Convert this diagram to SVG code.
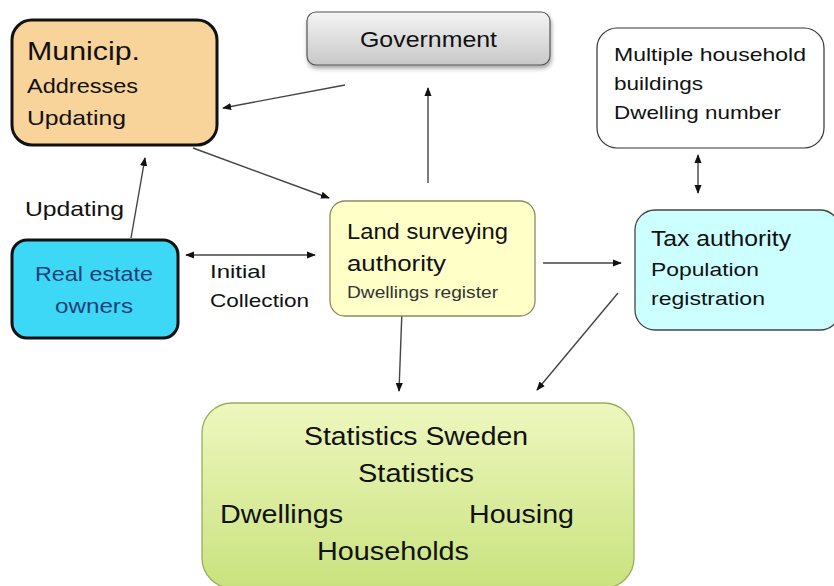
<svg xmlns="http://www.w3.org/2000/svg" width="834" height="586" viewBox="0 0 834 586">
<defs>
<linearGradient id="gGov" x1="0" y1="0" x2="0" y2="1"><stop offset="0" stop-color="#f4f4f4"/><stop offset="1" stop-color="#c8c8c8"/></linearGradient>
<linearGradient id="gStat" x1="0" y1="0" x2="0" y2="1"><stop offset="0" stop-color="#eef7bf"/><stop offset="1" stop-color="#c9e27e"/></linearGradient>
<filter id="sh" x="-10%" y="-10%" width="130%" height="140%"><feDropShadow dx="1" dy="3" stdDeviation="2" flood-color="#000" flood-opacity="0.35"/></filter>
<marker id="ah" viewBox="0 0 10 10" refX="9" refY="5" markerWidth="9" markerHeight="9" markerUnits="userSpaceOnUse" orient="auto-start-reverse"><path d="M0,1 L10,5 L0,9 Z" fill="#111"/></marker>
</defs>
<style>
text{font-family:"Liberation Sans",Arial,sans-serif;fill:#111}
.c{stroke:#444;stroke-width:1.4;fill:none;marker-end:url(#ah)}
.b{stroke:#444;stroke-width:1.4;fill:none;marker-end:url(#ah);marker-start:url(#ah)}
</style>
<rect width="834" height="586" fill="#fff"/>
<g id="connectors">
<line class="c" x1="345" y1="85" x2="223" y2="108"/>
<line class="c" x1="193" y1="148" x2="329" y2="198"/>
<line class="c" x1="428" y1="183" x2="428" y2="88"/>
<line class="c" x1="131" y1="238" x2="145" y2="158"/>
<line class="b" x1="186" y1="255" x2="315" y2="255"/>
<line class="b" x1="698" y1="155" x2="698" y2="193"/>
<line class="c" x1="543" y1="263" x2="621" y2="263"/>
<line class="c" x1="402" y1="310" x2="399" y2="391"/>
<line class="c" x1="618" y1="293" x2="537" y2="390"/>
</g>
<g id="municip">
<rect x="12" y="20" width="205" height="125" rx="20" fill="#f9d49a" stroke="#111" stroke-width="3"/>
<text x="27" y="60" font-size="25" textLength="113" lengthAdjust="spacingAndGlyphs">Municip.</text>
<text x="27" y="93" font-size="21" textLength="111" lengthAdjust="spacingAndGlyphs">Addresses</text>
<text x="27" y="125" font-size="21" textLength="99" lengthAdjust="spacingAndGlyphs">Updating</text>
</g>
<g id="government">
<rect x="307" y="12" width="243" height="53" rx="9" fill="url(#gGov)" stroke="#555" stroke-width="1.2" filter="url(#sh)"/>
<text x="360" y="47" font-size="22" textLength="137" lengthAdjust="spacingAndGlyphs">Government</text>
</g>
<g id="multiple">
<rect x="597" y="28" width="227" height="120" rx="20" fill="#fff" stroke="#333" stroke-width="1.2"/>
<text x="614" y="61" font-size="19" textLength="192" lengthAdjust="spacingAndGlyphs">Multiple household</text>
<text x="614" y="90" font-size="19" textLength="89" lengthAdjust="spacingAndGlyphs">buildings</text>
<text x="614" y="119" font-size="19" textLength="167" lengthAdjust="spacingAndGlyphs">Dwelling number</text>
</g>
<g id="updating-label">
<text x="25" y="216" font-size="21" textLength="99" lengthAdjust="spacingAndGlyphs">Updating</text>
</g>
<g id="realestate">
<rect x="12" y="240" width="166" height="98" rx="15" fill="#3dd8f5" stroke="#111" stroke-width="3"/>
<text x="35" y="281" font-size="21" fill="#1f3f78" style="fill:#1f3f78" textLength="118" lengthAdjust="spacingAndGlyphs">Real estate</text>
<text x="55" y="313" font-size="21" style="fill:#1f3f78" textLength="78" lengthAdjust="spacingAndGlyphs">owners</text>
</g>
<g id="initial-label">
<text x="210" y="278" font-size="19" textLength="56" lengthAdjust="spacingAndGlyphs">Initial</text>
<text x="210" y="307" font-size="19" textLength="99" lengthAdjust="spacingAndGlyphs">Collection</text>
</g>
<g id="land">
<rect x="330" y="201" width="205" height="115" rx="15" fill="#ffffc8" stroke="#8a8a60" stroke-width="1.3"/>
<text x="347" y="239" font-size="22" textLength="161" lengthAdjust="spacingAndGlyphs">Land surveying</text>
<text x="347" y="271" font-size="22" textLength="99" lengthAdjust="spacingAndGlyphs">authority</text>
<text x="347" y="298" font-size="16" style="fill:#333" textLength="151" lengthAdjust="spacingAndGlyphs">Dwellings register</text>
</g>
<g id="tax">
<rect x="635" y="210" width="205" height="120" rx="20" fill="#ccffff" stroke="#444" stroke-width="1.3"/>
<text x="651" y="246" font-size="22" textLength="140" lengthAdjust="spacingAndGlyphs">Tax authority</text>
<text x="651" y="276" font-size="19" textLength="108" lengthAdjust="spacingAndGlyphs">Population</text>
<text x="651" y="305" font-size="19" textLength="114" lengthAdjust="spacingAndGlyphs">registration</text>
</g>
<g id="statistics">
<rect x="202" y="403" width="432" height="185" rx="30" fill="url(#gStat)" stroke="#9aae5a" stroke-width="1.3"/>
<text x="304" y="445" font-size="25" textLength="224" lengthAdjust="spacingAndGlyphs">Statistics Sweden</text>
<text x="358" y="482" font-size="25" textLength="116" lengthAdjust="spacingAndGlyphs">Statistics</text>
<text x="220" y="523" font-size="25" textLength="123" lengthAdjust="spacingAndGlyphs">Dwellings</text>
<text x="469" y="523" font-size="25" textLength="105" lengthAdjust="spacingAndGlyphs">Housing</text>
<text x="317" y="560" font-size="25" textLength="152" lengthAdjust="spacingAndGlyphs">Households</text>
</g>
</svg>
